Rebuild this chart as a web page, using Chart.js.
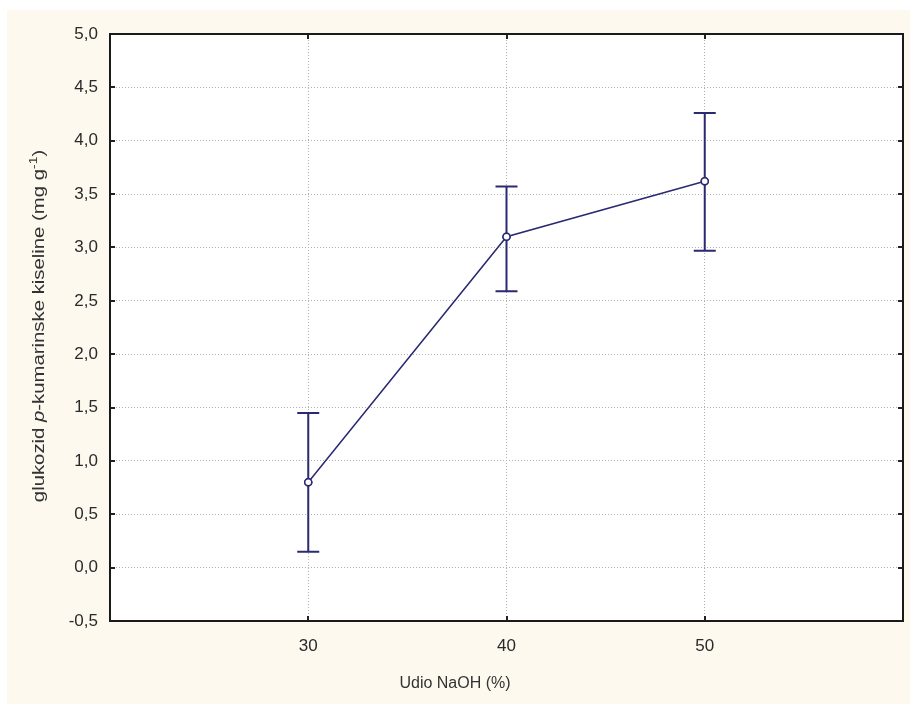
<!DOCTYPE html>
<html>
<head>
<meta charset="utf-8">
<script src="https://cdn.jsdelivr.net/npm/chart.js@4"></script>
<style>
	html, body { margin: 0; padding: 0; background: #fff; }
	#wrap { width: 910px; height: 704px; }
</style>
</head>
<body>
<div id="wrap"><canvas id="chart" width="910" height="704"></canvas></div>
<script>
const naohShare = [30, 40, 50];
const glucosideMean = [0.80, 3.10, 3.62];
const glucosideLow = [0.15, 2.59, 2.97];
const glucosideHigh = [1.45, 3.57, 4.26];
const xTicks = [30, 40, 50];

const lineColor = '#2a2a72';
const fontFamily = '"Liberation Sans", Arial, sans-serif';

const commaFormat = value => Number(value).toFixed(1).replace('.', ',');

// cream background + frame around chart area
const backgroundPlugin = {
	id: 'background',
	beforeDraw: chart => {
		const ctx = chart.ctx;
		ctx.save();
		ctx.fillStyle = '#ffffff';
		ctx.fillRect(0, 0, chart.width, chart.height);
		ctx.fillStyle = '#fdf9ef';
		ctx.fillRect(7, 10, chart.width - 7, chart.height - 10);
		const area = chart.chartArea;
		ctx.fillStyle = '#ffffff';
		ctx.fillRect(area.left, area.top, area.right - area.left, area.bottom - area.top);
		ctx.restore();
	},
	afterDraw: chart => {
		const ctx = chart.ctx;
		const area = chart.chartArea;
		const y = chart.scales.y;
		const x = chart.scales.x;
		ctx.save();
		// small ticks inside the frame
		ctx.strokeStyle = '#222';
		ctx.lineWidth = 2;
		y.ticks.forEach(t => {
			const py = Math.round(y.getPixelForValue(t.value));
			ctx.beginPath();
			ctx.moveTo(area.left, py); ctx.lineTo(area.left + 5, py);
			ctx.moveTo(area.right, py); ctx.lineTo(area.right - 5, py);
			ctx.stroke();
		});
		x.ticks.forEach(t => {
			const px = Math.round(x.getPixelForValue(t.value));
			ctx.beginPath();
			ctx.moveTo(px, area.bottom); ctx.lineTo(px, area.bottom - 5);
			ctx.moveTo(px, area.top); ctx.lineTo(px, area.top + 5);
			ctx.stroke();
		});
		ctx.strokeStyle = '#1a1a1a';
		ctx.lineWidth = 2;
		ctx.strokeRect(area.left, area.top, area.right - area.left, area.bottom - area.top);

		// axis titles
		ctx.fillStyle = '#333';
		ctx.font = `16px ${fontFamily}`;
		ctx.textAlign = 'center';
		ctx.textBaseline = 'middle';
		ctx.fillText('Udio NaOH (%)', 455, 684);

		// y title with italic p and superscript -1 (stretched along its length like the original)
		ctx.translate(40, 326);
		ctx.rotate(-Math.PI / 2);
		ctx.scale(1.27, 1);
		const parts = [
			{ text: 'glukozid ', font: `16px ${fontFamily}`, dy: 0 },
			{ text: 'p', font: `italic 16px ${fontFamily}`, dy: 0 },
			{ text: '-kumarinske kiseline (mg g', font: `16px ${fontFamily}`, dy: 0 },
			{ text: '-1', font: `11px ${fontFamily}`, dy: -6 },
			{ text: ')', font: `16px ${fontFamily}`, dy: 0 },
		];
		let total = 0;
		parts.forEach(p => { ctx.font = p.font; p.w = ctx.measureText(p.text).width; total += p.w; });
		let cx = -total / 2;
		ctx.textAlign = 'left';
		parts.forEach(p => {
			ctx.font = p.font;
			ctx.fillText(p.text, cx, p.dy);
			cx += p.w;
		});
		ctx.restore();
	}
};

// vertical error bars with caps, positioned through the chart scales
const errorBarPlugin = {
	id: 'errorBars',
	afterDatasetsDraw: chart => {
		const ctx = chart.ctx;
		const x = chart.scales.x;
		const y = chart.scales.y;
		ctx.save();
		ctx.strokeStyle = lineColor;
		ctx.lineWidth = 2;
		naohShare.forEach((v, i) => {
			const px = x.getPixelForValue(v);
			const top = y.getPixelForValue(glucosideHigh[i]);
			const bottom = y.getPixelForValue(glucosideLow[i]);
			ctx.beginPath();
			ctx.moveTo(px, top); ctx.lineTo(px, bottom);
			ctx.moveTo(px - 11, top); ctx.lineTo(px + 11, top);
			ctx.moveTo(px - 11, bottom); ctx.lineTo(px + 11, bottom);
			ctx.stroke();
		});
		// redraw markers on top of the bars
		const meta = chart.getDatasetMeta(0);
		meta.data.forEach(pt => {
			ctx.beginPath();
			ctx.arc(pt.x, pt.y, 3.5, 0, Math.PI * 2);
			ctx.fillStyle = '#fff';
			ctx.fill();
			ctx.lineWidth = 1.5;
			ctx.stroke();
		});
		ctx.restore();
	}
};

new Chart(document.getElementById('chart'), {
	type: 'line',
	data: {
		datasets: [{
			data: naohShare.map((v, i) => ({ x: v, y: glucosideMean[i] })),
			borderColor: lineColor,
			borderWidth: 1.5,
			pointRadius: 3.5,
			pointBackgroundColor: '#fff',
			pointBorderColor: lineColor,
			pointBorderWidth: 1.5,
			tension: 0,
		}]
	},
	options: {
		responsive: false,
		animation: false,
		layout: { padding: { top: 34, right: 7, bottom: 0, left: 0 } },
		plugins: {
			legend: { display: false },
			tooltip: { enabled: false },
		},
		scales: {
			x: {
				type: 'linear',
				min: 20,
				max: 60,
				afterBuildTicks: scale => { scale.ticks = xTicks.map(v => ({ value: v })); },
				afterFit: scale => { scale.height = 83; },
				grid: {
					color: '#b0b0b0',
					lineWidth: 1,
					drawTicks: false,
				},
				border: { display: false, dash: [1, 2] },
				ticks: {
					color: '#2a2a2a',
					font: { family: fontFamily, size: 17 },
					padding: 15,
					maxRotation: 0,
				},
			},
			y: {
				min: -0.5,
				max: 5,
				afterFit: scale => { scale.width = 110; },
				grid: {
					color: '#b0b0b0',
					lineWidth: 1,
					drawTicks: false,
				},
				border: { display: false, dash: [1, 2] },
				ticks: {
					stepSize: 0.5,
					color: '#2a2a2a',
					font: { family: fontFamily, size: 17 },
					padding: 12,
					callback: value => commaFormat(value),
				},
			},
		},
	},
	plugins: [backgroundPlugin, errorBarPlugin],
});
</script>
</body>
</html>
